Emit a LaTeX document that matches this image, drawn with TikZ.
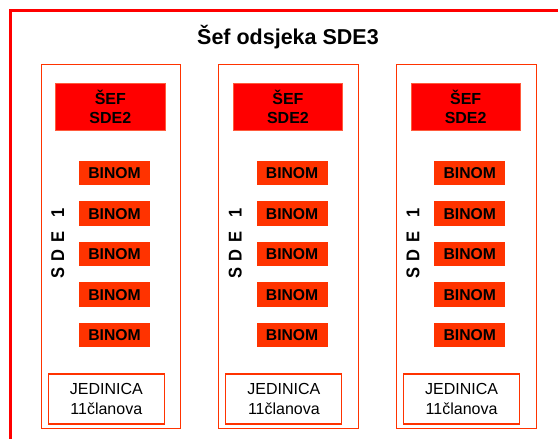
\documentclass[tikz,border=0pt]{standalone}
\usepackage{fontspec}
\setmainfont{Liberation Sans}
\definecolor{framered}{HTML}{FF0000}
\definecolor{orng}{HTML}{FF3300}
\definecolor{sefborder}{HTML}{FF5A3C}
\begin{document}
\begin{tikzpicture}[x=1pt,y=-1pt,
 colbox/.style={draw=orng, line width=1.1pt, minimum width=139.6pt, minimum height=364pt, inner sep=0pt, anchor=north west},
 sefbox/.style={fill=framered, draw=sefborder, line width=0.8pt, minimum width=109.4pt, minimum height=47.4pt, inner sep=0pt, align=center, font=\fontsize{16}{18.3}\selectfont\bfseries},
 binombox/.style={fill=orng, minimum width=71pt, minimum height=24.5pt, inner sep=0pt, font=\fontsize{15.7}{18}\selectfont\bfseries},
 unitbox/.style={draw=orng, fill=white, line width=1.1pt, minimum width=116pt, minimum height=50pt, inner sep=0pt, align=center, font=\fontsize{16}{19.5}\selectfont},
 sdelabel/.style={rotate=90, font=\fontsize{16.5}{18}\selectfont\bfseries, inner sep=0pt},
 titlelabel/.style={font=\fontsize{21.5}{24}\selectfont\bfseries, inner sep=0pt}]
\useasboundingbox (0,0) rectangle (558,439);
\begin{scope}
\clip (0,0) rectangle (558,439);
\draw[framered, line width=3pt] (10.5,470) -- (10.5,10.5) -- (590,10.5);
\end{scope}
\node[titlelabel, anchor=base] (title) at (288,44) {Šef odsjeka SDE3};
\foreach \i/\cx in {1/40.7, 2/218.3, 3/396}{
  \node[colbox] (col\i) at (\cx,64.3) {};
  \node[sefbox] (sef\i) at ({\cx+69.65},107) {ŠEF\\SDE2};
  \foreach \k in {1,...,5}{
    \node[binombox] (binom\i\k) at ({\cx+73.8},{173.2+40.5*(\k-1)}) {BINOM};
  }
  \node[unitbox] (unit\i) at ({\cx+65.6},399) {JEDINICA\\11članova};
  \node[sdelabel] (sde\i) at ({\cx+17},243.5) {\scalebox{1}[1.12]{S\hspace{5.5pt}D\hspace{7pt}E\hspace{14pt}1}};
}
\end{tikzpicture}
\end{document}
